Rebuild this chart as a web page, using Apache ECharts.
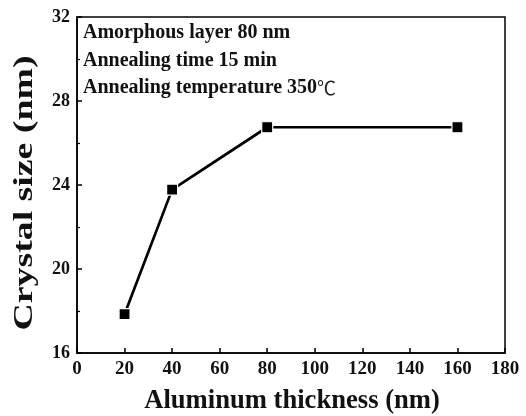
<!DOCTYPE html>
<html><head><meta charset="utf-8">
<script src="https://cdn.jsdelivr.net/npm/echarts@6/dist/echarts.min.js"></script>
<style>html,body{margin:0;padding:0;background:#fff}#c{width:526px;height:416px}</style>
</head><body><div id="c"></div>
<script>
var thickness = [20, 40, 80, 160];
var crystalSize = [17.85, 23.78, 26.75, 26.75];
var notes = ['Amorphous layer 80 nm', 'Annealing time 15 min', 'Annealing temperature 350{u|\u2103}'];
var xTitle = 'Aluminum thickness (nm)';
var yTitle = 'Crystal size (nm)';

var font = '"Liberation Serif","Times New Roman",serif';
var chart = echarts.init(document.getElementById('c'));
var graphics = notes.map(function (t, i) {
  return {type: 'text', x: 83, y: 33 + i * 27.5,
    style: {text: t, fontFamily: font, fontWeight: 'bold', fontSize: 20, fill: '#111', verticalAlign: 'middle', align: 'left',
      rich: {u: {fontFamily: '"Noto Sans CJK SC","DejaVu Sans",sans-serif', fontWeight: 'normal', fontSize: 19, fill: '#222'}}}};
});
graphics.push({type: 'text', x: 292, y: 401, scaleX: 0.95,
  style: {text: xTitle, fontFamily: font, fontWeight: 'bold', fontSize: 28, fill: '#111', align: 'center', verticalAlign: 'middle'}});
graphics.push({type: 'text', x: 25, y: 193, rotation: Math.PI / 2, scaleX: 1.4,
  style: {text: yTitle, fontFamily: font, fontWeight: 'bold', fontSize: 27, fill: '#111', align: 'center', verticalAlign: 'middle'}});

chart.setOption({
  animation: false,
  backgroundColor: '#fff',
  grid: {left: 77, right: 21, top: 17, bottom: 63, show: true, borderColor: '#000', borderWidth: 1.5, backgroundColor: 'transparent'},
  xAxis: {
    type: 'value', min: 0, max: 180, interval: 20,
    axisLine: {show: true, lineStyle: {color: '#000', width: 1.5}},
    axisTick: {show: true, inside: true, length: 5, lineStyle: {color: '#000', width: 1.5}},
    axisLabel: {fontFamily: font, fontWeight: 'bold', fontSize: 19, color: '#111', margin: 7},
    splitLine: {show: false}
  },
  yAxis: {
    type: 'value', min: 16, max: 32, interval: 4,
    axisLine: {show: true, lineStyle: {color: '#000', width: 1.5}},
    axisTick: {show: true, inside: true, length: 5, lineStyle: {color: '#000', width: 1.5}},
    minorTick: {show: true, splitNumber: 2, length: 3, lineStyle: {color: '#000', width: 1.2}},
    axisLabel: {fontFamily: font, fontWeight: 'bold', fontSize: 18, color: '#111', margin: 7},
    splitLine: {show: false}
  },
  graphic: graphics,
  series: [{
    type: 'line',
    data: thickness.map(function (x, i) { return [x, crystalSize[i]]; }),
    symbol: 'rect', symbolSize: 11,
    itemStyle: {color: '#000', borderColor: '#fff', borderWidth: 1.2},
    lineStyle: {color: '#000', width: 2.7}
  }]
});
</script></body></html>
